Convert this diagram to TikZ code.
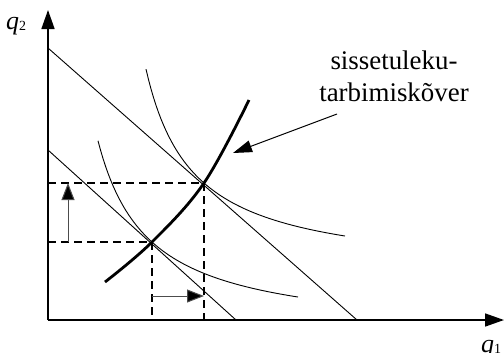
\documentclass[tikz,border=0pt]{standalone}
\usepackage{fontspec}
\setmainfont{Liberation Serif}
\usetikzlibrary{arrows.meta}
\begin{document}
\begin{tikzpicture}[x=1bp,y=-1bp,
  axis/.style={line width=1.6bp,-{Triangle[length=19bp,width=13bp]}},
  budget/.style={line width=0.9bp},
  indiff/.style={line width=0.9bp},
  icc/.style={line width=2.8bp},
  guide/.style={line width=1.6bp,dash pattern=on 8bp off 5bp},
  shiftarrow/.style={line width=1bp,draw=black!70,-{Triangle[length=17bp,width=13bp,fill=black]}},
  callout/.style={line width=1bp,-{Triangle[length=19bp,width=12bp]}},
  lbl/.style={font=\fontsize{27}{32}\selectfont,inner sep=0pt},
  axlbl/.style={font=\fontsize{26}{28}\selectfont,inner sep=0pt}]
\useasboundingbox (0,0) rectangle (504,352);
% key points
\coordinate (O) at (48,320);
\coordinate (Ytop) at (48,10);
\coordinate (Xend) at (504,320);
\coordinate (B1a) at (48,48);
\coordinate (B1b) at (357,320);
\coordinate (B2a) at (48,150);
\coordinate (B2b) at (236,320);
\coordinate (E1) at (204,183);
\coordinate (E2) at (152,242);
\coordinate (E1y) at (48,183);
\coordinate (E2y) at (48,242);
\coordinate (E1x) at (204,320);
\coordinate (E2x) at (152,320);
\coordinate (Va) at (68,242);
\coordinate (Vb) at (68,183);
\coordinate (Ha) at (152,296);
\coordinate (Hb) at (204,296);
\coordinate (Cs) at (337,114);
\coordinate (Ct) at (233,153);
% axes
\draw[axis] (O) -- (Ytop);
\draw[axis] (O) -- (Xend);
% budget lines
\draw[budget] (B1a) -- (B1b);
\draw[budget] (B2a) -- (B2b);
% indifference curves
\draw[indiff] plot[domain=146:345,samples=80,variable=\x] (\x,{275.5-9720/(\x-98.9)});
\draw[indiff] plot[domain=98:298,samples=80,variable=\x] (\x,{336.3-9834/(\x-47.7)});
% income-consumption curve
\draw[icc] plot[smooth,tension=0.6] coordinates {(105,282) (152,242) (204,183) (249,100)};
% guides
\draw[guide] (E1y) -- (E1) -- (E1x);
\draw[guide] (E2y) -- (E2) -- (E2x);
% shift arrows
\draw[shiftarrow] (Va) -- (Vb);
\draw[shiftarrow] (Ha) -- (Hb);
% labels
\node[lbl,anchor=base,align=center] (txt) at (394,101) {sissetuleku-\\tarbimiskõver};
\draw[callout] (Cs) -- (Ct);
\node[axlbl,anchor=base west] (q2) at (6,29) {\textit{q}\raisebox{-1bp}{\fontsize{14}{14}\selectfont 2}};
\node[axlbl,anchor=base west] (q1) at (481,352) {\textit{q}\raisebox{-1bp}{\fontsize{14}{14}\selectfont 1}};
\end{tikzpicture}
\end{document}
